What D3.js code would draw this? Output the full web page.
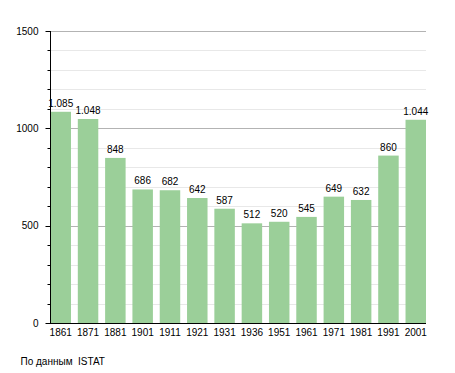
<!DOCTYPE html>
<html>
<head>
<meta charset="utf-8">
<script src="https://cdn.jsdelivr.net/npm/d3@7"></script>
<style>
  body { margin: 0; background: #fff; }
  text { font-family: "Liberation Sans", Arial, sans-serif; font-size: 10px; fill: #000; }
</style>
</head>
<body>
<div id="chart"></div>
<script>
// population by census year
var years = ["1861", "1871", "1881", "1901", "1911", "1921", "1931", "1936", "1951", "1961", "1971", "1981", "1991", "2001"];
var population = [1085, 1048, 848, 686, 682, 642, 587, 512, 520, 545, 649, 632, 860, 1044];
var yTicks = [0, 500, 1000, 1500];
var source = "По данным\u00a0\u00a0ISTAT";

var width = 455, height = 373;
var plotLeft = 50.5, plotRight = 426, plotTop = 31, plotBottom = 323;

var svg = d3.select("#chart").append("svg")
  .attr("width", width)
  .attr("height", height);

var x = d3.scaleBand()
  .domain(years)
  .range([plotLeft, plotRight])
  .paddingInner(0.25)
  .paddingOuter(0);

var y = d3.scaleLinear()
  .domain([0, 1500])
  .range([plotBottom, plotTop]);

// grid lines every 100, darker every 500
svg.append("g").selectAll("line")
  .data(d3.range(100, 1501, 100))
  .enter().append("line")
  .attr("x1", 50)
  .attr("x2", plotRight)
  .attr("y1", function(d) { return Math.round(y(d)) + 0.5; })
  .attr("y2", function(d) { return Math.round(y(d)) + 0.5; })
  .attr("stroke", function(d) { return d % 500 === 0 ? "#b3b3b3" : "#e8e8e8"; })
  .attr("stroke-width", 1);

// bars
svg.append("g").selectAll("rect")
  .data(years)
  .enter().append("rect")
  .attr("x", function(d) { return x(d); })
  .attr("width", x.bandwidth())
  .attr("y", function(d, i) { return y(population[i]); })
  .attr("height", function(d, i) { return plotBottom - y(population[i]); })
  .attr("fill", "#9bcf99");

// value labels
svg.append("g").selectAll("text")
  .data(years)
  .enter().append("text")
  .attr("x", function(d) { return x(d) + x.bandwidth() / 2; })
  .attr("y", function(d, i) { return y(population[i]) - 5; })
  .attr("text-anchor", "middle")
  .text(function(d, i) { return d3.format(",")(population[i]).replace(",", "."); });

// minor ticks
svg.append("g").selectAll("line")
  .data(d3.range(0, 1501, 100))
  .enter().append("line")
  .attr("x1", function(d) { return d % 500 === 0 ? 45.5 : 47.5; })
  .attr("x2", 50)
  .attr("y1", function(d) { return Math.round(y(d)) + 0.5; })
  .attr("y2", function(d) { return Math.round(y(d)) + 0.5; })
  .attr("stroke", "#000");

// y axis
var yAxis = svg.append("g")
  .attr("transform", "translate(50.5,0)")
  .call(d3.axisLeft(y).tickValues(yTicks).tickSize(0).tickPadding(12).tickFormat(d3.format("d")));
yAxis.select(".domain").attr("stroke", "#000").attr("d", "M0," + plotTop + "V" + (plotBottom + 0.5));
yAxis.selectAll("text").style("font-family", "Liberation Sans, Arial, sans-serif").style("font-size", "10px");

// x axis
var xAxis = svg.append("g")
  .attr("transform", "translate(0," + (Math.round(plotBottom) + 0.5) + ")")
  .call(d3.axisBottom(x).tickSize(0).tickPadding(5));
xAxis.select(".domain").attr("stroke", "#000").attr("d", "M50,0H" + plotRight);
xAxis.selectAll("text").style("font-family", "Liberation Sans, Arial, sans-serif").style("font-size", "10px");

// source note
svg.append("text")
  .attr("x", 20.5)
  .attr("y", 365)
  .text(source);
</script>
</body>
</html>
